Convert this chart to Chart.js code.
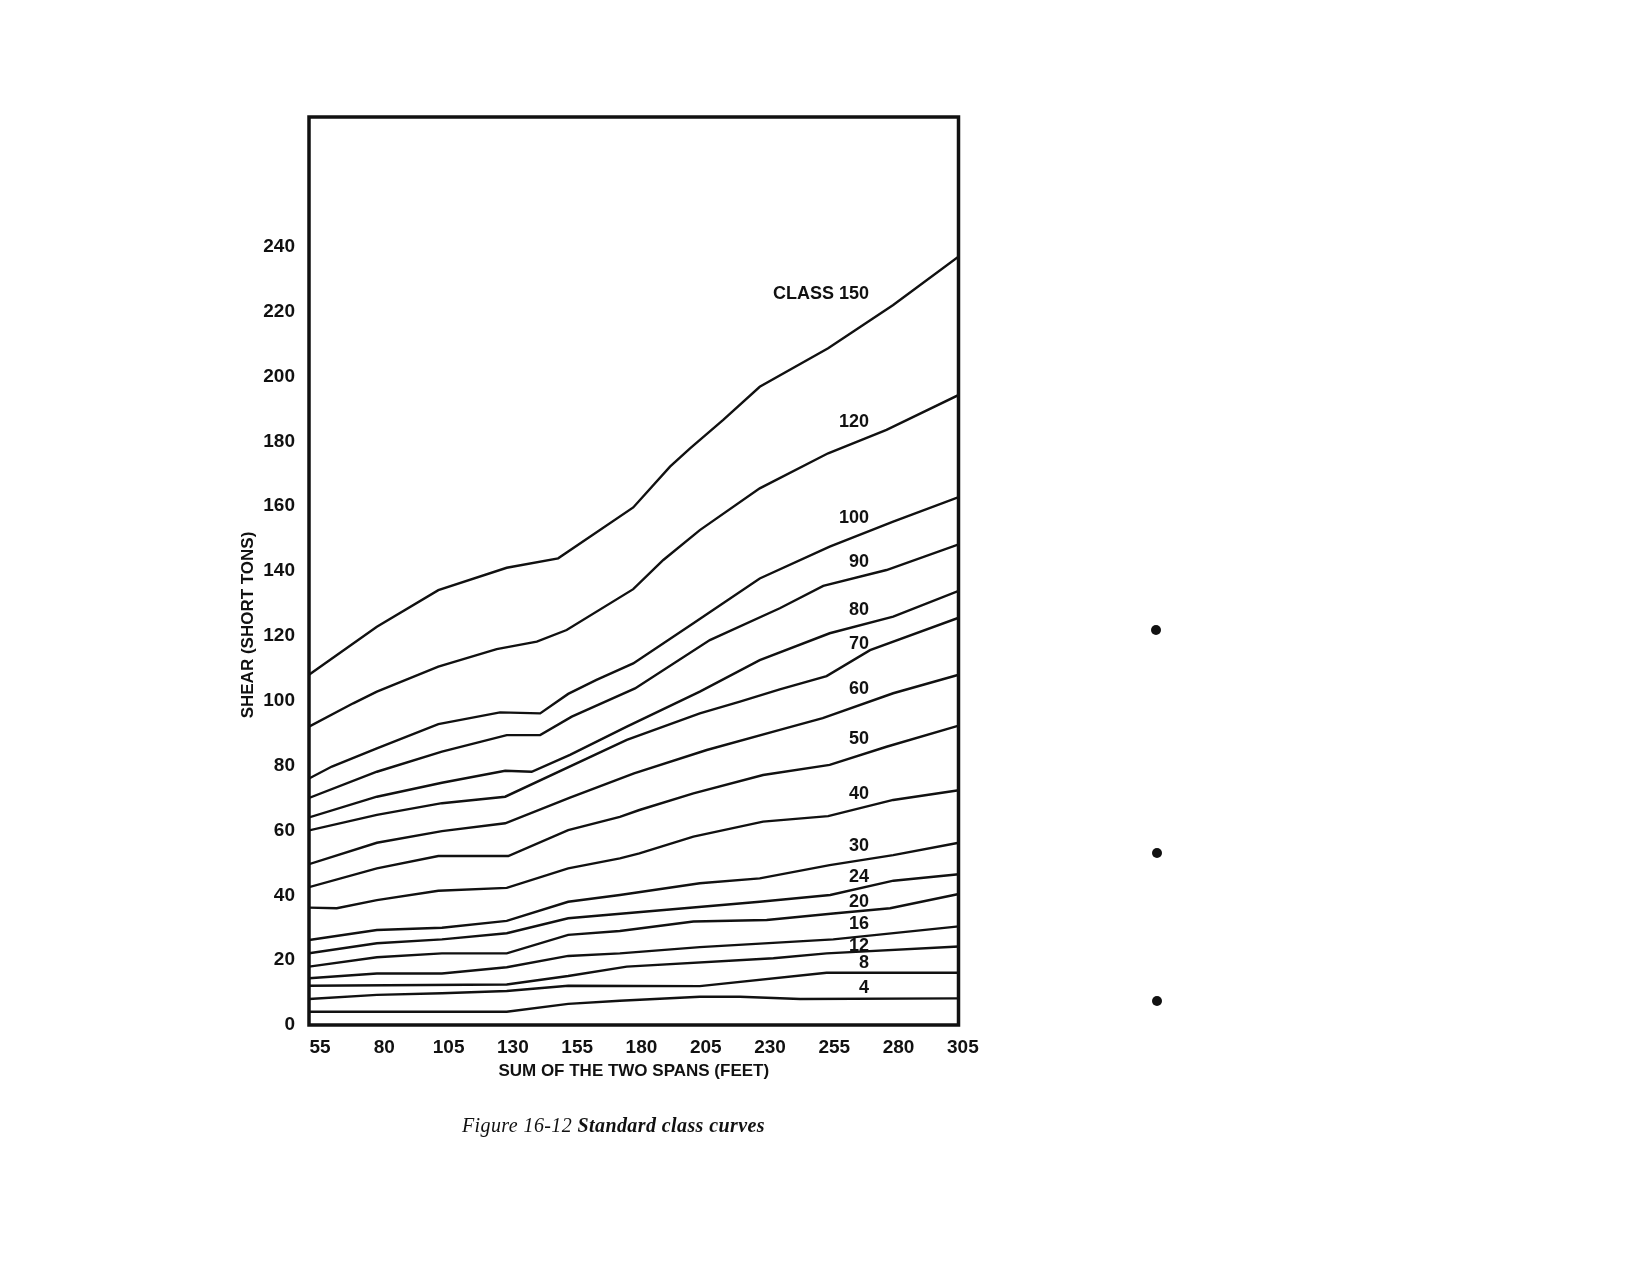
<!DOCTYPE html>
<html>
<head>
<meta charset="utf-8">
<title>Standard class curves</title>
<script src="https://cdn.jsdelivr.net/npm/chart.js@4.4.1/dist/chart.umd.min.js"></script>
<style>
    body{
        margin: 0;
        background: #ffffff;
    }
    #wrap{
        position: relative;
        width: 1647px;
        height: 1275px;
    }
    #caption{
        position: absolute;
        left: 462px;
        top: 1115px;
        font-family: "Liberation Serif", "DejaVu Serif", serif;
        font-style: italic;
        font-size: 20px;
        line-height: 20px;
        letter-spacing: 0.4px;
        color: #111;
        white-space: nowrap;
    }
    #caption b{
        font-weight: bold;
    }
    .dot{
        position: absolute;
        width: 10px;
        height: 10px;
        border-radius: 50%;
        background: #111;
    }
</style>
</head>
<body>
<div id="wrap">
    <canvas id="classChart" width="1647" height="1275"></canvas>
    <div id="caption">Figure 16-12 <b>Standard class curves</b></div>
    <div class="dot" style="left:1151px;top:625px"></div>
    <div class="dot" style="left:1152px;top:848px"></div>
    <div class="dot" style="left:1152px;top:996px"></div>
</div>
<script>
// sum of the two spans (feet) vs shear (short tons), one array of [x, y] per class
const class150 = [[50.7,108],[77.1,122.8],[101,134.1],[127.6,141],[147.6,143.9],[176.8,159.6],[191.1,172.2],[198.9,177.8],[211.8,186.6],[226,196.8],[252.6,208.7],[277.9,222],[303.4,237]];
const class120 = [[50.7,92],[67.9,99.2],[77.1,102.8],[101,110.5],[123.7,115.9],[139.3,118.2],[150.9,121.8],[176.8,134.4],[188.5,143.4],[202.7,152.6],[226,165.5],[252.6,176.3],[275.3,183.5],[303.4,194.3]];
const class100 = [[50.7,76],[59.6,79.7],[77.1,85.3],[101,92.8],[125,96.4],[140.6,96.1],[151.5,102.1],[162.5,106.4],[176.8,111.5],[200.2,123.9],[226,137.7],[253.2,147.5],[277.9,155.2],[303.4,162.8]];
const class90 = [[50.7,70],[77.1,78.1],[102.4,84.3],[127.6,89.4],[140.6,89.4],[152.9,95.1],[177.5,103.8],[206.6,118.7],[233.8,128.5],[250.7,135.4],[275.3,140.3],[303.4,148.2]];
const class80 = [[50.7,64],[77.1,70.4],[102.4,74.7],[127,78.4],[137.3,78.1],[152.2,83.3],[174.3,92],[202.7,102.8],[226,112.5],[253.2,120.8],[277.9,125.9],[303.4,133.9]];
const class70 = [[50.7,60],[77.1,64.8],[102.4,68.4],[127,70.4],[174.3,87.9],[202.7,96.1],[218.3,99.7],[233.8,103.5],[252,107.6],[268.9,115.6],[303.4,125.6]];
const class60 = [[50.7,49.6],[77.1,56.2],[102.4,59.8],[127,62.2],[152.2,70.1],[177.1,77.6],[205.4,84.8],[233.8,91],[250.5,94.6],[277.9,102.3],[303.4,108]];
const class50 = [[50.7,42.5],[77.1,48.3],[101,52.1],[128.2,52.1],[151.5,60.1],[171.6,64.2],[179.2,66.3],[200.2,71.4],[227.3,77.1],[253.2,80.2],[275.3,85.8],[303.4,92.3]];
const class40 = [[50.7,36.2],[61.5,36],[77.1,38.5],[101,41.4],[127.6,42.3],[151.5,48.3],[171.6,51.4],[179.2,52.9],[200.2,58.1],[227.3,62.7],[252.6,64.4],[277.9,69.4],[303.4,72.4]];
const class30 = [[50.7,26.2],[77.1,29.3],[102.4,30],[127.6,32.1],[151.5,38],[171.6,40.1],[202.7,43.7],[226,45.2],[253.2,49.3],[277.9,52.4],[303.4,56.2]];
const class24 = [[50.7,22.1],[77.1,25.2],[102.4,26.4],[127.6,28.3],[151.5,32.9],[226,38],[253.4,40.1],[278,44.5],[303.4,46.5]];
const class20 = [[50.7,18],[77.1,20.9],[102.4,22.1],[127.6,22.1],[151.5,27.8],[171.6,29],[200.2,31.9],[228.7,32.4],[254.6,34.4],[276.7,36],[303.4,40.4]];
const class16 = [[50.7,14.4],[77.1,15.9],[102.4,15.9],[127.6,17.8],[151.5,21.3],[171.6,22.1],[202.7,24],[254.6,26.4],[303.4,30.4]];
const class12 = [[50.7,12.1],[127.6,12.5],[151.5,15.1],[174.3,18],[231.3,20.6],[252,22.1],[303.4,24.2]];
const class8 = [[50.7,8],[77.1,9.3],[102.4,9.8],[127.6,10.5],[151.5,12.1],[202.7,12],[252,16.1],[303.4,16.1]];
const class4 = [[50.7,4.1],[127.6,4.1],[151.5,6.5],[171.6,7.5],[202.7,8.7],[218.3,8.7],[241.7,8],[303.4,8.2]];

const allCurves = [class150, class120, class100, class90, class80, class70, class60, class50,
    class40, class30, class24, class20, class16, class12, class8, class4];

// curve names, written just above each line near the right edge
const curveNames = ["CLASS 150","120","100","90","80","70","60","50","40","30","24","20","16","12","8","4"];
const nameY = [225.4, 186, 156.2, 142.9, 128, 117.5, 103.5, 88.1, 71.2, 55.2, 45.7, 38, 31.1, 24.5, 19, 11.3];
const nameX = 268.5;

const xTicks = [55, 80, 105, 130, 155, 180, 205, 230, 255, 280, 305];
const yTicks = [0, 20, 40, 60, 80, 100, 120, 140, 160, 180, 200, 220, 240];

const ink = "#111111";
const sansBold = {family: "'Liberation Sans', Arial, sans-serif", weight: "bold"};

// frame around the plot, the curve names and the rotated y title
const extras = {
    id: "extras",
    afterDraw(chart){
        const ctx = chart.ctx;
        const area = chart.chartArea;
        const xs = chart.scales.x;
        const ys = chart.scales.y;
        ctx.save();
        ctx.strokeStyle = ink;
        ctx.lineWidth = 3.5;
        ctx.strokeRect(area.left, area.top, area.right - area.left, area.bottom - area.top);

        ctx.fillStyle = ink;
        ctx.font = "bold 18px 'Liberation Sans', Arial, sans-serif";
        ctx.textAlign = "right";
        ctx.textBaseline = "middle";
        curveNames.forEach((name, i) => {
            ctx.fillText(name, xs.getPixelForValue(nameX), ys.getPixelForValue(nameY[i]));
        });

        ctx.font = "bold 17px 'Liberation Sans', Arial, sans-serif";
        ctx.textAlign = "center";
        ctx.translate(248, 625);
        ctx.rotate(-Math.PI / 2);
        ctx.fillText("SHEAR (SHORT TONS)", 0, 0);
        ctx.restore();
    }
};

const ctx1 = document.getElementById("classChart");
const classChart = new Chart(ctx1, {
    type: "line",
    data: {
        datasets: allCurves.map((curve, i) => ({
            label: curveNames[i],
            data: curve.map(p => ({x: p[0], y: p[1]})),
            borderColor: ink,
            borderWidth: 2.4,
            pointRadius: 0,
            tension: 0,
            fill: false
        }))
    },
    options: {
        responsive: false,
        animation: false,
        devicePixelRatio: 1,
        layout: {
            padding: {left: 0, right: 688.5, top: 117, bottom: 0}
        },
        plugins: {
            legend: {display: false},
            tooltip: {enabled: false}
        },
        scales: {
            x: {
                type: "linear",
                min: 50.7,
                max: 303.3,
                grid: {display: false, drawTicks: false},
                border: {display: false},
                afterBuildTicks: (scale) => {
                    scale.ticks = xTicks.map(v => ({value: v}));
                },
                afterFit: (scale) => {
                    scale.height = 250;
                    scale.paddingLeft = 0;
                    scale.paddingRight = 0;
                },
                ticks: {
                    color: ink,
                    padding: 11,
                    maxRotation: 0,
                    autoSkip: false,
                    font: {...sansBold, size: 19}
                },
                title: {
                    display: true,
                    text: "SUM OF THE TWO SPANS (FEET)",
                    color: ink,
                    padding: {top: 0, bottom: 193},
                    font: {...sansBold, size: 17}
                }
            },
            y: {
                min: 0,
                max: 280,
                grid: {display: false, drawTicks: false},
                border: {display: false},
                afterBuildTicks: (scale) => {
                    scale.ticks = yTicks.map(v => ({value: v}));
                },
                afterFit: (scale) => {
                    scale.width = 309;
                    scale.paddingTop = 0;
                    scale.paddingBottom = 0;
                },
                ticks: {
                    color: ink,
                    padding: 14,
                    font: {...sansBold, size: 19}
                }
            }
        }
    },
    plugins: [extras]
});
</script>
</body>
</html>
